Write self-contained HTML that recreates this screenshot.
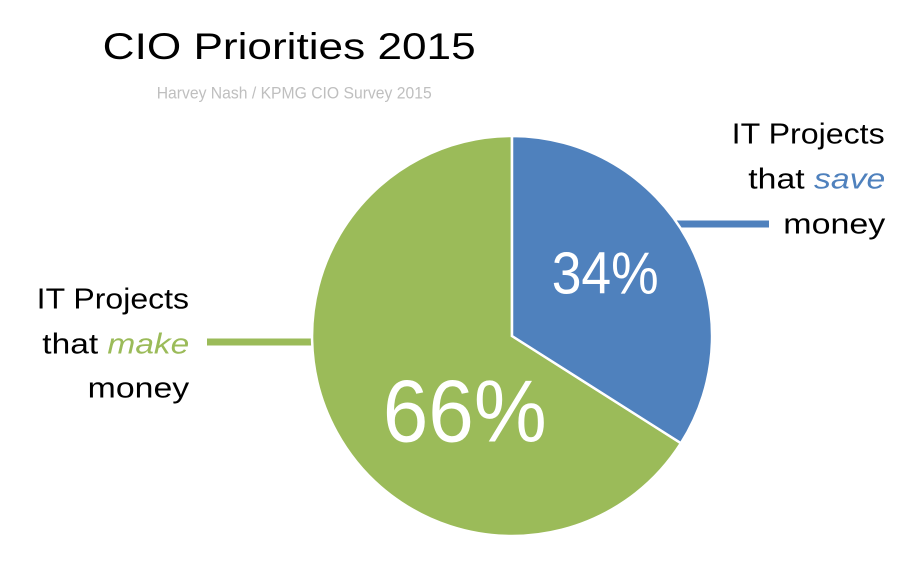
<!DOCTYPE html>
<html>
<head>
<meta charset="utf-8">
<style>
  html, body { margin:0; padding:0; background:#ffffff; }
  svg { display:block; }
  text { font-family: "Liberation Sans", sans-serif; }
</style>
</head>
<body>
<svg width="918" height="561" viewBox="0 0 918 561" xmlns="http://www.w3.org/2000/svg">
  <rect width="918" height="561" fill="#ffffff"/>

  <!-- Title -->
  <text x="102.7" y="59" font-size="37" fill="#000000" textLength="373" lengthAdjust="spacingAndGlyphs">CIO Priorities 2015</text>
  <text x="156.7" y="98.7" font-size="16.5" fill="#bfbfbf" textLength="275" lengthAdjust="spacingAndGlyphs">Harvey Nash / KPMG CIO Survey 2015</text>

  <!-- Leader lines -->
  <line x1="660" y1="224" x2="769" y2="224" stroke="#4f81bd" stroke-width="7"/>
  <line x1="207" y1="342" x2="330" y2="342" stroke="#9bbb59" stroke-width="7"/>

  <!-- Pie -->
  <path d="M512,336 L680.9,443.2 A200,200 0 1,1 512,136 Z" fill="#9bbb59" stroke="#ffffff" stroke-width="2.5" stroke-linejoin="miter"/>
  <path d="M512,336 L512,136 A200,200 0 0,1 680.9,443.2 Z" fill="#4f81bd" stroke="#ffffff" stroke-width="2.5" stroke-linejoin="miter"/>

  <!-- Percent labels -->
  <text x="551.7" y="293.3" font-size="59.5" fill="#ffffff" textLength="107" lengthAdjust="spacingAndGlyphs">34%</text>
  <text x="382.7" y="441.7" font-size="88.5" fill="#ffffff" textLength="164" lengthAdjust="spacingAndGlyphs">66%</text>

  <!-- Right labels -->
  <text x="731.7" y="143.3" font-size="29" fill="#000000" textLength="153" lengthAdjust="spacingAndGlyphs">IT Projects</text>
  <text x="748.3" y="188.3" font-size="29" fill="#000000" textLength="137" lengthAdjust="spacingAndGlyphs">that <tspan font-style="italic" fill="#4f81bd">save</tspan></text>
  <text x="783.3" y="233.3" font-size="29" fill="#000000" textLength="102" lengthAdjust="spacingAndGlyphs">money</text>

  <!-- Left labels -->
  <text x="36.7" y="308.3" font-size="29" fill="#000000" textLength="152.3" lengthAdjust="spacingAndGlyphs">IT Projects</text>
  <text x="42.3" y="353.3" font-size="29" fill="#000000" textLength="147" lengthAdjust="spacingAndGlyphs">that <tspan font-style="italic" fill="#9bbb59">make</tspan></text>
  <text x="87.7" y="397.3" font-size="29" fill="#000000" textLength="101.5" lengthAdjust="spacingAndGlyphs">money</text>
</svg>
</body>
</html>
